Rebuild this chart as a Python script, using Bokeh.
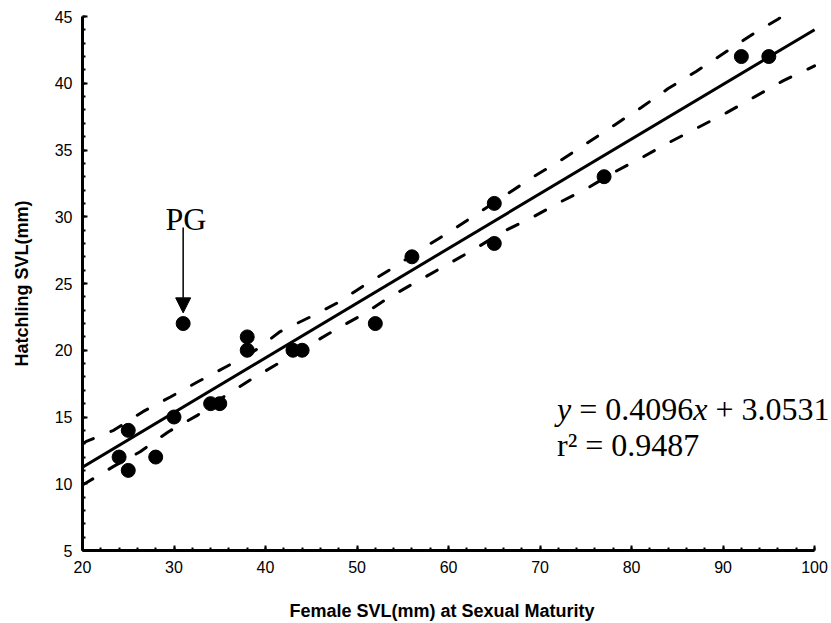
from bokeh.plotting import figure
from bokeh.models import Range1d, SingleIntervalTicker, Arrow, NormalHead, ColumnDataSource, Label, Title
from bokeh.embed import file_html
from bokeh.resources import INLINE

# ---- data ----
female_svl = [24, 25, 25, 28, 30, 31, 34, 35, 38, 38, 43, 44, 52, 56, 65, 65, 77, 92, 95]
hatchling_svl = [12, 14, 11, 12, 15, 22, 16, 16, 21, 20, 20, 20, 22, 27, 31, 28, 33, 42, 42]

fit_slope = 0.4096
fit_intercept = 3.0531
r_squared = 0.9487
fit_x = [20, 100]

upper_x = [20, 20.5, 23.4, 26.6, 29.6, 32.5, 35.8, 38.9, 41.6, 44.9, 48.0, 51.1, 54.0, 57.1,
           60.2, 63.3, 66.4, 69.3, 72.2, 75.1, 78.2, 81.1, 84.0, 87.1, 90.2, 93.3, 96.0, 98.0]
upper_y = [13.0, 13.2, 14.0, 15.4, 16.5, 17.6, 18.8, 20.0, 21.4, 22.5, 23.6, 25.0, 26.2, 27.6,
           28.9, 30.3, 31.7, 33.0, 34.2, 35.5, 36.9, 38.2, 39.6, 40.9, 42.3, 43.7, 44.8, 45.7]
lower_x = [20, 23.4, 26.3, 29.4, 32.5, 35.4, 38.4, 41.6, 47.8, 50.7, 53.6, 56.7, 59.8, 62.9,
           66.0, 69.0, 72.2, 75.1, 78.0, 81.3, 84.2, 87.3, 90.4, 93.5, 96.6, 100]
lower_y = [9.9, 11.3, 12.4, 13.9, 15.1, 16.5, 17.8, 19.1, 21.6, 22.7, 24.0, 25.2, 26.4, 27.6,
           28.9, 29.9, 31.1, 32.1, 33.3, 34.5, 35.6, 36.7, 37.8, 39.0, 40.2, 41.3]

x_title = "Female SVL(mm) at Sexual Maturity"
y_title = "Hatchling SVL(mm)"
outlier_label = "PG"

# ---- figure ----
# frame runs to the right canvas edge so the equation is not clipped; the x axis itself is bounded to 20-100
p = figure(width=831, height=623, output_backend="svg", toolbar_location=None,
           x_range=Range1d(20, 101.85), y_range=Range1d(5, 45),
           min_border_left=82, min_border_right=0, min_border_top=16, min_border_bottom=73)
p.outline_line_color = None
p.xgrid.visible = False
p.ygrid.visible = False
p.background_fill_color = "white"
p.border_fill_color = "white"

p.xaxis.ticker = SingleIntervalTicker(interval=10, num_minor_ticks=5)
p.yaxis.ticker = SingleIntervalTicker(interval=5, num_minor_ticks=5)
p.xaxis.bounds = (20, 100)
for ax in (p.xaxis, p.yaxis):
    ax.axis_line_width = 3
    ax.axis_line_color = "black"
    ax.major_tick_in = 5
    ax.major_tick_out = 0
    ax.minor_tick_in = 3
    ax.minor_tick_out = 0
    ax.major_tick_line_width = 2
    ax.minor_tick_line_width = 2
    ax.major_tick_line_color = "black"
    ax.minor_tick_line_color = "black"
    ax.major_label_text_font = "Liberation Sans"
    ax.major_label_text_font_size = "16px"
    ax.major_label_text_color = "black"
    ax.axis_label_text_font = "Liberation Sans"
    ax.axis_label_text_font_size = "18px"
    ax.axis_label_text_font_style = "bold"
    ax.axis_label_text_color = "black"

p.yaxis.axis_label = y_title
p.xaxis.major_label_standoff = 10
p.yaxis.major_label_standoff = 10
p.yaxis.axis_label_standoff = 20
# blank spacer label on the x axis pushes the title panel lower
p.xaxis.axis_label = " "
p.xaxis.axis_label_text_font_size = "16px"
p.xaxis.axis_label_standoff = 0

# x-axis title as a left-aligned title below, so it is centred under the 20-100 axis
p.add_layout(Title(text=x_title, align="left", offset=207, standoff=6,
                   text_font="Liberation Sans", text_font_size="18px",
                   text_font_style="bold", text_color="black"), "below")

# confidence bands
p.line(upper_x, upper_y, line_color="black", line_width=3, line_dash="12 19", line_cap="round")
p.line(lower_x, lower_y, line_color="black", line_width=3, line_dash="12 19", line_cap="round")

# regression line
fit_y = [fit_slope * xv + fit_intercept for xv in fit_x]
p.line(fit_x, fit_y, line_color="black", line_width=3)

# data points
src = ColumnDataSource(dict(x=female_svl, y=hatchling_svl))
p.scatter("x", "y", source=src, size=14, marker="circle", fill_color="black", line_color="black")

# PG annotation
p.add_layout(Arrow(end=NormalHead(size=15, fill_color="black", line_color="black"),
                   x_start=31, y_start=29.2, x_end=31, y_end=22.8,
                   line_color="black", line_width=1.5))
p.add_layout(Label(x=31.3, y=29.8, text=outlier_label, text_font="Liberation Serif",
                   text_font_size="32px", text_align="center", text_baseline="alphabetic",
                   text_color="black"))

# equation (pieces placed with pixel offsets; Times-metric advances in em)
fs = 32
eq_x, eq_y1, eq_y2 = 71.86, 15.61, 12.87
off_eq = (0.444 + 0.25) * fs
off_x = (0.444 + 0.25 + 3.564) * fs
off_plus = (0.444 + 0.25 + 3.564 + 0.444 + 0.25) * fs
common = dict(text_font="Liberation Serif", text_font_size=f"{fs}px",
              text_baseline="alphabetic", text_color="black")
p.add_layout(Label(x=eq_x, y=eq_y1, text="y", text_font_style="italic", **common))
p.add_layout(Label(x=eq_x, y=eq_y1, text=f"= {fit_slope}", x_offset=off_eq, **common))
p.add_layout(Label(x=eq_x, y=eq_y1, text="x", x_offset=off_x, text_font_style="italic", **common))
p.add_layout(Label(x=eq_x, y=eq_y1, text=f"+ {fit_intercept}", x_offset=off_plus, **common))
p.add_layout(Label(x=eq_x, y=eq_y2, text=f"r\u00b2 = {r_squared}", **common))

open("out.html", "w").write(file_html(p, INLINE))
